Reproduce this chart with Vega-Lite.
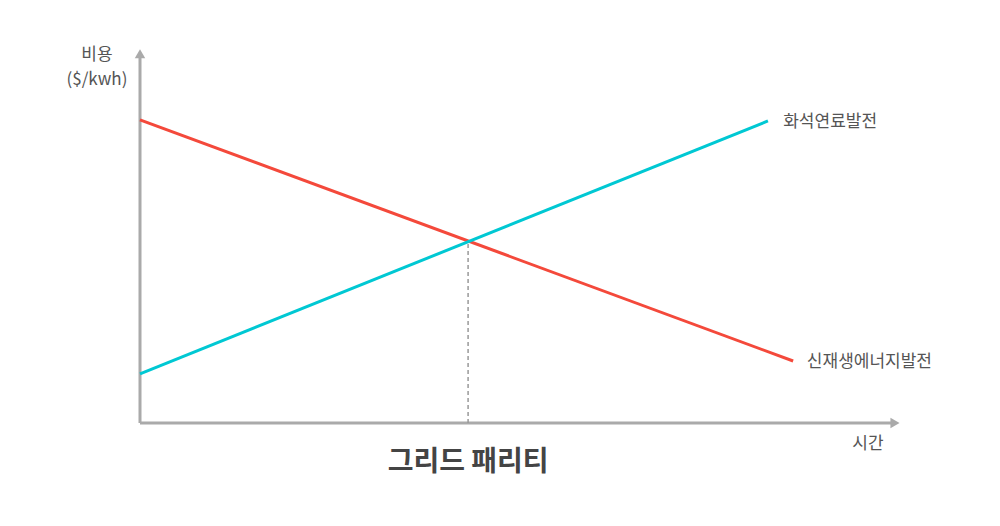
{
  "$schema": "https://vega.github.io/schema/vega-lite/v6.json",
  "width": 763,
  "height": 378,
  "autosize": {"type": "none"},
  "padding": {"left": 140, "top": 45, "right": 97, "bottom": 103},
  "background": "white",
  "config": {"view": {"stroke": null}, "font": "Noto Sans CJK KR"},
  "layer": [
    {
      "data": {"values": [{"t": 0, "c": 0}, {"t": 98.5, "c": 0}]},
      "mark": {"type": "line", "color": "#aaaaaa", "strokeWidth": 3},
      "encoding": {
        "x": {"field": "t", "type": "quantitative", "scale": {"domain": [0, 100]}, "axis": null},
        "y": {"field": "c", "type": "quantitative", "scale": {"domain": [0, 100]}, "axis": null}
      }
    },
    {
      "data": {"values": [{"t": 0, "c": 0}, {"t": 0, "c": 97}]},
      "mark": {"type": "line", "color": "#aaaaaa", "strokeWidth": 3},
      "encoding": {
        "x": {"field": "t", "type": "quantitative"},
        "y": {"field": "c", "type": "quantitative"}
      }
    },
    {
      "data": {"values": [{"t": 98.95, "c": 0, "shape": "triangle-right"}, {"t": 0, "c": 97.7, "shape": "triangle-up"}]},
      "mark": {"type": "point", "filled": true, "color": "#aaaaaa", "opacity": 1, "size": 110},
      "encoding": {
        "x": {"field": "t", "type": "quantitative"},
        "y": {"field": "c", "type": "quantitative"},
        "shape": {"field": "shape", "type": "nominal", "scale": null, "legend": null}
      }
    },
    {
      "data": {"values": [{"t": 43, "c": 0}, {"t": 43, "c": 48}]},
      "mark": {"type": "line", "color": "#999999", "strokeWidth": 1.5, "strokeDash": [4, 3]},
      "encoding": {
        "x": {"field": "t", "type": "quantitative"},
        "y": {"field": "c", "type": "quantitative"}
      }
    },
    {
      "data": {"values": [
        {"series": "신재생에너지발전", "t": 0, "c": 80.2},
        {"series": "신재생에너지발전", "t": 85.6, "c": 16.4},
        {"series": "화석연료발전", "t": 0, "c": 13.0},
        {"series": "화석연료발전", "t": 82.3, "c": 79.9}
      ]},
      "mark": {"type": "line", "strokeWidth": 3},
      "encoding": {
        "x": {"field": "t", "type": "quantitative"},
        "y": {"field": "c", "type": "quantitative"},
        "color": {"field": "series", "type": "nominal", "scale": {"domain": ["신재생에너지발전", "화석연료발전"], "range": ["#f4493b", "#00c8d3"]}, "legend": null}
      }
    },
    {
      "data": {"values": [
        {"label": "비용", "t": -5.64, "c": 97.3},
        {"label": "($/kwh)", "t": -5.64, "c": 90.7},
        {"label": "시간", "t": 95.4, "c": -5.56}
      ]},
      "mark": {"type": "text", "fontSize": 17, "color": "#555555", "align": "center", "baseline": "middle"},
      "encoding": {
        "x": {"field": "t", "type": "quantitative"},
        "y": {"field": "c", "type": "quantitative"},
        "text": {"field": "label"}
      }
    },
    {
      "data": {"values": [
        {"label": "화석연료발전", "t": 84.3, "c": 79.6},
        {"label": "신재생에너지발전", "t": 87.4, "c": 16.1}
      ]},
      "mark": {"type": "text", "fontSize": 17, "color": "#555555", "align": "left", "baseline": "middle"},
      "encoding": {
        "x": {"field": "t", "type": "quantitative"},
        "y": {"field": "c", "type": "quantitative"},
        "text": {"field": "label"}
      }
    },
    {
      "data": {"values": [{"label": "그리드 패리티", "t": 43, "c": -10.6}]},
      "mark": {"type": "text", "fontSize": 28, "fontWeight": "bold", "color": "#444444", "align": "center", "baseline": "middle"},
      "encoding": {
        "x": {"field": "t", "type": "quantitative"},
        "y": {"field": "c", "type": "quantitative"},
        "text": {"field": "label"}
      }
    }
  ]
}
